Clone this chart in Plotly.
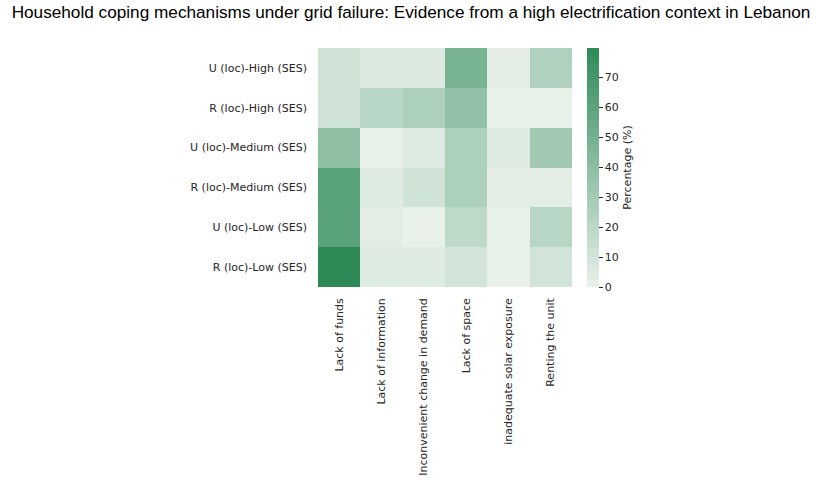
import plotly.graph_objects as go

categories = ["Lack of funds", "Lack of information", "Inconvenient change in demand",
              "Lack of space", "inadequate solar exposure", "Renting the unit"]
groups = ["U (loc)-High (SES)", "R (loc)-High (SES)", "U (loc)-Medium (SES)",
          "R (loc)-Medium (SES)", "U (loc)-Low (SES)", "R (loc)-Low (SES)"]

u_high = [12, 6, 6, 48, 3, 25]
r_high = [12, 21, 26, 38, 1, 1]
u_med = [39, 1, 5, 26, 5, 31]
r_med = [62, 5, 11, 26, 3, 3]
u_low = [61, 3, 1, 19, 1, 21]
r_low = [79.7, 5, 5, 10, 1, 10]

z = [u_high, r_high, u_med, r_med, u_low, r_low]
cbar_ticks = [0, 10, 20, 30, 40, 50, 60, 70]

font_main = "DejaVu Sans"
txt = "#262626"
fs = 11

fig = go.Figure(go.Heatmap(
    z=z, x=categories, y=groups,
    zmin=0, zmax=max(max(r) for r in z),
    colorscale=[[0, "#eaf1ec"], [1, "#2e8b57"]],
    colorbar=dict(
        thickness=12, len=1, lenmode="fraction", y=0.5, yanchor="middle",
        x=1.059, xanchor="left", xpad=0, ypad=0, outlinewidth=0,
        tickvals=cbar_ticks, ticks="outside", ticklen=4, tickwidth=1,
        tickcolor=txt, tickfont=dict(family=font_main, size=fs, color=txt),
        title=dict(text="Percentage (%)", side="right",
                   font=dict(family=font_main, size=fs, color=txt)),
    ),
))

fig.update_layout(
    width=822, height=492,
    margin=dict(l=318, r=250, t=48, b=205),
    paper_bgcolor="white", plot_bgcolor="white",
    title=dict(text="Household coping mechanisms under grid failure: Evidence from a high electrification context in Lebanon",
               x=0.5, xanchor="center", y=0.975, yanchor="middle",
               font=dict(family="Liberation Sans", size=17.2, color="black")),
)
fig.update_xaxes(tickangle=-90, showgrid=False, zeroline=False, showline=False,
                 ticks="", ticklabelstandoff=8, automargin=False,
                 tickfont=dict(family=font_main, size=fs, color=txt))
fig.update_yaxes(autorange="reversed", showgrid=False, zeroline=False, showline=False,
                 ticks="", ticklabelstandoff=10, automargin=False,
                 tickfont=dict(family=font_main, size=fs, color=txt))

fig.write_html("out.html")
